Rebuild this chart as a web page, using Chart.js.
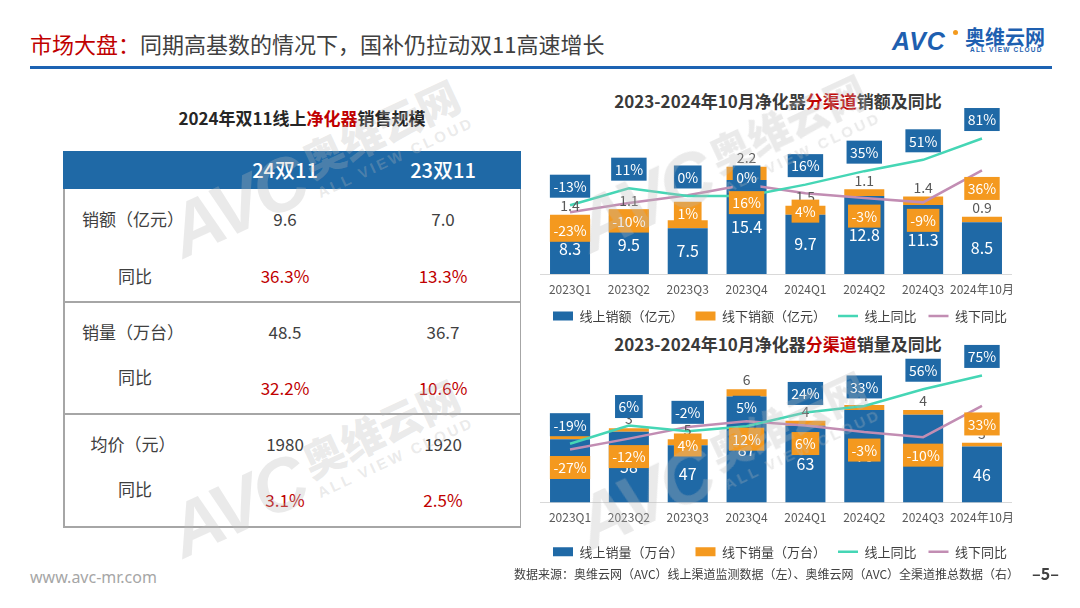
<!DOCTYPE html>
<html><head><meta charset="utf-8">
<script src="https://cdn.jsdelivr.net/npm/chart.js@4.4.1/dist/chart.umd.min.js"></script>
<style>
html,body{margin:0;padding:0;background:#fff;}
body{width:1080px;height:608px;position:relative;overflow:hidden;font-family:"Noto Sans CJK SC","Noto Sans",sans-serif;color:#404040;}
.abs{position:absolute;white-space:nowrap;line-height:1;}
.c{transform:translate(-50%,-50%);}
.red{color:#C00000;}
canvas{position:absolute;}
.wm{position:absolute;pointer-events:none;z-index:50;color:rgba(185,185,185,0.30);display:flex;align-items:center;white-space:nowrap;line-height:1;}
</style></head><body>

<div id="title" class="abs" style="left:30px;top:32px;font-size:22px;"><span class="red">市场大盘：</span>同期高基数的情况下，国补仍拉动双11高速增长</div>
<div class="abs" style="left:30px;top:66px;width:1022px;height:3px;background:#1D63B3;"></div>
<div class="abs" style="left:892px;top:27px;font:italic 900 25px 'Liberation Sans',sans-serif;color:#1E5FB0;letter-spacing:1px;">AVC</div>
<div class="abs" style="left:953px;top:30px;width:5px;height:5px;border-radius:50%;background:#F39A1E;"></div>
<div class="abs" style="left:965px;top:27px;font-size:20px;font-weight:bold;color:#1E5FB0;">奥维云网</div>
<div class="abs" style="left:970px;top:46px;font:bold 6.5px 'Liberation Sans',sans-serif;color:#1E5FB0;letter-spacing:1.2px;">ALL VIEW CLOUD</div>

<div id="tblTitle" class="abs c" style="left:302px;top:117px;font-size:17px;font-weight:bold;color:#262626;">2024年双11线上<span class="red">净化器</span>销售规模</div>
<div id="tbl"></div>

<div class="abs c" style="left:778px;top:100px;font-size:17px;font-weight:bold;color:#3A3A3A;">2023-2024年10月净化器<span class="red">分渠道</span>销额及同比</div>
<div class="abs c" style="left:778px;top:343px;font-size:17px;font-weight:bold;color:#3A3A3A;">2023-2024年10月净化器<span class="red">分渠道</span>销量及同比</div>

<canvas id="c1" width="500" height="227" style="left:530px;top:108px;"></canvas>
<canvas id="c2" width="500" height="230" style="left:530px;top:340px;"></canvas>

<div class="abs" style="left:30px;top:566px;font:16px 'Noto Sans',sans-serif;color:#A6A6A6;">www.avc-mr.com</div>
<div class="abs" style="left:514px;top:568px;font-size:12px;color:#404040;">数据来源：奥维云网（AVC）线上渠道监测数据（左）、奥维云网（AVC）全渠道推总数据（右）</div>
<div class="abs" style="left:1032px;top:565px;font-size:16px;font-weight:bold;color:#404040;">–5–</div>

<script>
// ---------- data ----------
const categories = ['2023Q1','2023Q2','2023Q3','2023Q4','2024Q1','2024Q2','2024Q3','2024年10月'];

const amountOnline  = [8.3, 9.5, 7.5, 15.4, 9.7, 12.8, 11.3, 8.5];
const amountOffline = [1.4, 1.1, 1.3, 2.2, 1.5, 1.1, 1.4, 0.9];
const amountOnlineYoY  = [-13, 11, 0, 0, 16, 35, 51, 81];
const amountOfflineYoY = [-23, -10, 1, 16, 4, -3, -9, 36];

const volumeOnline  = [52, 58, 47, 87, 63, 76, 72, 46];
const volumeOffline = [3, 3, 5, 6, 4, 4, 4, 3];
const volumeOnlineYoY  = [-19, 6, -2, 5, 24, 33, 56, 75];
const volumeOfflineYoY = [-27, -12, 4, 12, 6, -3, -10, 33];

const amountLegend = ['线上销额（亿元）','线下销额（亿元）','线上同比','线下同比'];
const volumeLegend = ['线上销量（万台）','线下销量（万台）','线上同比','线下同比'];

const tableCols = ['24双11','23双11'];
const tableRows = ['销额（亿元）','销量（万台）','均价（元）'];
const value24 = ['9.6','48.5','1980'];
const value23 = ['7.0','36.7','1920'];
const yoy24 = ['36.3%','32.2%','3.1%'];
const yoy23 = ['13.3%','10.6%','2.5%'];
const yoyLabel = '同比';

// ---------- styles ----------
const BLUE = '#1F69A6', ORANGE = '#F4991F', TEAL = '#45D6B5', PINK = '#C28DB3';
const FONT = '"Noto Sans CJK SC","Noto Sans",sans-serif';
Chart.defaults.font.family = FONT;

// ---------- table ----------
(function(){
  const t = document.getElementById('tbl');
  const L = 63, W = 458, TOP = 151, HH = 38;
  const groupTops = [189, 302, 414], bottom = 527;
  const mainY = [218, 331, 443], yoyLabY = [275, 376, 488], yoyValY = [275, 387, 499];
  const colX = [285, 443], labX = 133, yoyLabX = 135;
  let h = '';
  h += `<div class="abs" style="left:${L}px;top:${TOP}px;width:${W}px;height:${HH}px;background:${BLUE};"></div>`;
  tableCols.forEach((c,i)=>{ h += `<div class="abs c" style="left:${colX[i]}px;top:${TOP+HH/2}px;font-size:20px;font-weight:500;color:#fff;">${c}</div>`; });
  h += `<div class="abs" style="left:${L}px;top:${TOP+HH}px;width:1.5px;height:${bottom-TOP-HH}px;background:#A6A6A6;"></div>`;
  h += `<div class="abs" style="left:${L+W-1.5}px;top:${TOP+HH}px;width:1.5px;height:${bottom-TOP-HH}px;background:#A6A6A6;"></div>`;
  [groupTops[1], groupTops[2], bottom].forEach(y=>{ h += `<div class="abs" style="left:${L}px;top:${y-1}px;width:${W}px;height:1.5px;background:#A6A6A6;"></div>`; });
  tableRows.forEach((r,i)=>{
    h += `<div class="abs c" style="left:${labX}px;top:${mainY[i]}px;font-size:17px;">${r}</div>`;
    h += `<div class="abs c" style="left:${colX[0]}px;top:${mainY[i]}px;font-size:17px;">${value24[i]}</div>`;
    h += `<div class="abs c" style="left:${colX[1]}px;top:${mainY[i]}px;font-size:17px;">${value23[i]}</div>`;
    h += `<div class="abs c" style="left:${yoyLabX}px;top:${yoyLabY[i]}px;font-size:17px;">${yoyLabel}</div>`;
    h += `<div class="abs c red" style="left:${colX[0]}px;top:${yoyValY[i]}px;font-size:17px;">${yoy24[i]}</div>`;
    h += `<div class="abs c red" style="left:${colX[1]}px;top:${yoyValY[i]}px;font-size:17px;">${yoy23[i]}</div>`;
  });
  t.innerHTML = h;
})();

// ---------- watermarks ----------
[[318,168],[318,468],[725,163],[725,460]].forEach(([x,y])=>{
  const d = document.createElement('div');
  d.className = 'wm';
  d.style.left = x + 'px'; d.style.top = y + 'px';
  d.style.transform = 'translate(-50%,-50%) rotate(-25deg)';
  d.innerHTML = `<span style="font:italic 900 74px 'Liberation Sans',sans-serif;letter-spacing:-3px;">AVC</span>` +
    `<div style="margin-left:8px;"><div style="font-size:42px;font-weight:900;">奥维云网</div>` +
    `<div style="font:bold 15px 'Liberation Sans',sans-serif;letter-spacing:3px;margin-top:4px;">ALL VIEW CLOUD</div></div>`;
  document.body.appendChild(d);
});

// ---------- label plugin ----------
const valueLabels = {
  id: 'valueLabels',
  afterDatasetsDraw(chart) {
    const ctx = chart.ctx, ds = chart.data.datasets;
    ctx.save();
    ctx.textAlign = 'center'; ctx.textBaseline = 'middle';
    const m0 = chart.getDatasetMeta(0), m1 = chart.getDatasetMeta(1);
    ctx.font = '16px ' + FONT; ctx.fillStyle = '#fff';
    m0.data.forEach((b,i)=>ctx.fillText(String(ds[0].data[i]), b.x, (b.y + b.base)/2));
    ctx.font = '14px ' + FONT; ctx.fillStyle = '#595959';
    m1.data.forEach((b,i)=>ctx.fillText(String(ds[1].data[i]), b.x, b.y - 9));
    const box = (idx, color, dy) => {
      chart.getDatasetMeta(idx).data.forEach((p,i)=>{
        const txt = ds[idx].data[i] + '%';
        ctx.font = '14px ' + FONT;
        const w = ctx.measureText(txt).width + 7, hgt = 23, cy = p.y + dy;
        ctx.fillStyle = color; ctx.fillRect(p.x - w/2, cy - hgt/2, w, hgt);
        ctx.fillStyle = '#fff'; ctx.fillText(txt, p.x, cy + 0.5);
      });
    };
    box(2, BLUE, -19);
    box(3, ORANGE, 18);
    ctx.restore();
  }
};

function makeChart(id, legend, online, offline, onYoY, offYoY, yMax, y2Min, y2Max, padTop, padBottom, xH) {
  new Chart(document.getElementById(id), {
    type: 'bar',
    data: {
      labels: categories,
      datasets: [
        {label: legend[0], data: online, backgroundColor: BLUE, stack: 's', yAxisID: 'y', order: 2, pointStyle: 'rect', categoryPercentage: 1, barPercentage: 0.68},
        {label: legend[1], data: offline, backgroundColor: ORANGE, stack: 's', yAxisID: 'y', order: 2, pointStyle: 'rect', categoryPercentage: 1, barPercentage: 0.68},
        {type: 'line', label: legend[2], data: onYoY, borderColor: TEAL, backgroundColor: TEAL, borderWidth: 2.5, pointRadius: 0, pointBorderWidth: 2.5, pointBorderColor: TEAL, pointStyle: 'line', tension: 0, yAxisID: 'y2', order: 1},
        {type: 'line', label: legend[3], data: offYoY, borderColor: PINK, backgroundColor: PINK, borderWidth: 2.5, pointRadius: 0, pointBorderWidth: 2.5, pointBorderColor: PINK, pointStyle: 'line', tension: 0, yAxisID: 'y2', order: 1}
      ]
    },
    options: {
      responsive: false, animation: false, devicePixelRatio: 1,
      layout: {padding: {top: padTop, bottom: padBottom, left: 0, right: 0}},
      plugins: {
        tooltip: {enabled: false},
        legend: {position: 'bottom', labels: {usePointStyle: true, pointStyleWidth: 20, boxHeight: 9, padding: 12, color: '#404040', font: {size: 13}, sort: (a,b)=>a.datasetIndex - b.datasetIndex}}
      },
      scales: {
        x: {stacked: true, offset: true, grid: {display: false, drawTicks: false}, border: {display: true, color: '#D9D9D9', width: 1},
            ticks: {color: '#595959', font: {size: 12}, padding: 8, maxRotation: 0, autoSkip: false},
            afterFit(s){ s.height = xH; }},
        y: {stacked: true, min: 0, max: yMax, position: 'left', grid: {display: false, drawTicks: false}, border: {display: false}, ticks: {display: false}, afterFit(s){ s.width = 10.6; }},
        y2: {min: y2Min, max: y2Max, position: 'right', grid: {display: false, drawTicks: false}, border: {display: false}, ticks: {display: false}, afterFit(s){ s.width = 18.6; }}
      }
    },
    plugins: [valueLabels]
  });
}

makeChart('c1', amountLegend, amountOnline, amountOffline, amountOnlineYoY, amountOfflineYoY, 25, -110, 105, 13.5, 2.5, 23.5);
makeChart('c2', volumeLegend, volumeOnline, volumeOffline, volumeOnlineYoY, volumeOfflineYoY, 112, -100, 88, 26, 1.8, 30.7);
</script>
</body></html>
